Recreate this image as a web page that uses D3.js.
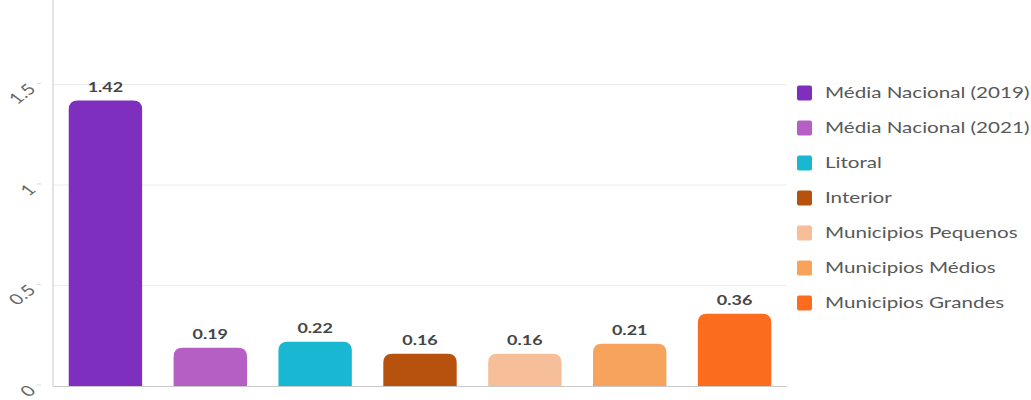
<!DOCTYPE html>
<html>
<head>
<meta charset="utf-8">
<script src="https://cdn.jsdelivr.net/npm/d3@7"></script>
<style>
  html, body { margin: 0; padding: 0; background: #fff; }
  svg { display: block; font-family: Lato, "Open Sans", sans-serif; }
</style>
</head>
<body>
<svg id="chart" width="1031" height="400"></svg>
<script>
// Categories and their values
const categories = [
  "Média Nacional (2019)",
  "Média Nacional (2021)",
  "Litoral",
  "Interior",
  "Municipios Pequenos",
  "Municipios Médios",
  "Municipios Grandes"
];
const values = [1.42, 0.19, 0.22, 0.16, 0.16, 0.21, 0.36];
const colors = ["#7e2fbe", "#b55ec3", "#19b7d1", "#b7520e", "#f6bf99", "#f8a35b", "#fc6c1f"];
const yTicks = [0, 0.5, 1, 1.5];
const yTickLabels = ["0", "0.5", "1", "1.5"];

// Text in this layout is drawn horizontally widened
const TEXT_STRETCH = 1.33;

const svg = d3.select("#chart");
const plot = { left: 53, right: 787, top: 0, bottom: 386 };

const x = d3.scaleBand()
  .domain(categories)
  .range([plot.left, plot.right])
  .paddingInner(0.3)
  .paddingOuter(0.15);

const y = d3.scaleLinear()
  .domain([0, 1.92])
  .range([plot.bottom, plot.top]);

// Horizontal gridlines
svg.append("g")
  .selectAll("line")
  .data(yTicks.filter(d => d > 0))
  .join("line")
  .attr("x1", plot.left)
  .attr("x2", plot.right)
  .attr("y1", d => y(d))
  .attr("y2", d => y(d))
  .attr("stroke", "#ececec")
  .attr("stroke-width", 1);

// Y tick labels, rotated
const yLab = svg.append("g");
yLab.selectAll("text")
  .data(yTicks)
  .join("text")
  .attr("transform", d => `translate(32,${y(d) + 2}) scale(${TEXT_STRETCH},1) rotate(-45)`)
  .attr("text-anchor", "end")
  .attr("dy", "0.35em")
  .attr("font-size", 15)
  .attr("fill", "#666")
  .text((d, i) => yTickLabels[i]);
yLab.selectAll("line")
  .data(yTicks)
  .join("line")
  .attr("x1", 37).attr("x2", 41)
  .attr("y1", d => y(d) - 1).attr("y2", d => y(d) - 1)
  .attr("stroke", "#d8d8d8");

// Rounded-top bar path
function barPath(x0, w, yTop, yBase, r) {
  const rr = Math.min(r, w / 2, (yBase - yTop));
  return `M${x0},${yBase}V${yTop + rr}Q${x0},${yTop} ${x0 + rr},${yTop}` +
         `H${x0 + w - rr}Q${x0 + w},${yTop} ${x0 + w},${yTop + rr}V${yBase}Z`;
}

svg.append("g")
  .selectAll("path")
  .data(values)
  .join("path")
  .attr("d", (d, i) => barPath(x(categories[i]), x.bandwidth(), y(d), y(0), 9))
  .attr("fill", (d, i) => colors[i]);

// Value labels
svg.append("g")
  .selectAll("text")
  .data(values)
  .join("text")
  .attr("transform", (d, i) =>
    `translate(${x(categories[i]) + x.bandwidth() / 2},${y(d) - 9}) scale(${TEXT_STRETCH},1)`)
  .attr("text-anchor", "middle")
  .attr("font-size", 13.5)
  .attr("font-weight", "bold")
  .attr("fill", "#454545")
  .text(d => d.toFixed(2));

// Axis lines
svg.append("line")
  .attr("x1", plot.left).attr("x2", plot.left)
  .attr("y1", 0).attr("y2", y(0) + 0.5)
  .attr("stroke", "#c8c8c8");
svg.append("line")
  .attr("x1", plot.left).attr("x2", plot.right)
  .attr("y1", y(0) + 0.5).attr("y2", y(0) + 0.5)
  .attr("stroke", "#c8c8c8");

// Legend
const legend = svg.append("g")
  .selectAll("g")
  .data(categories)
  .join("g")
  .attr("transform", (d, i) => `translate(797,${93 + i * 35})`);
legend.append("rect")
  .attr("x", 0).attr("y", -7.5)
  .attr("width", 15).attr("height", 15)
  .attr("rx", 2)
  .attr("fill", (d, i) => colors[i]);
legend.append("text")
  .attr("transform", `translate(28,0) scale(${TEXT_STRETCH},1)`)
  .attr("dy", "0.35em")
  .attr("font-size", 15.5)
  .attr("fill", "#585858")
  .text(d => d);
</script>
</body>
</html>
